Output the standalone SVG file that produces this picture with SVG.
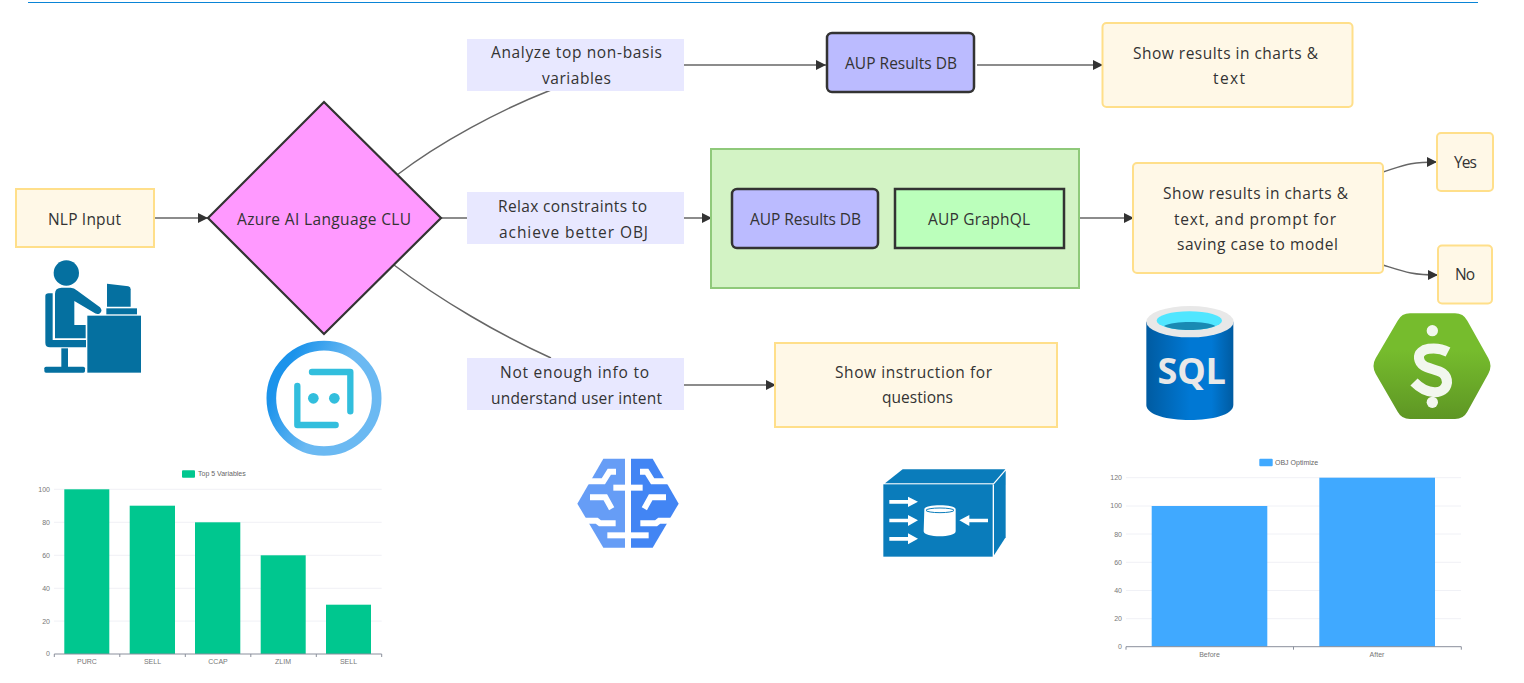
<svg xmlns="http://www.w3.org/2000/svg" width="1524" height="683" viewBox="0 0 1524 683">
<defs>
<marker id="arrow" markerUnits="userSpaceOnUse" markerWidth="11" markerHeight="11" refX="10" refY="5" orient="auto"><path d="M0,0L10,5L0,10Z" fill="#333"/></marker>
<linearGradient id="ring" x1="0" y1="0" x2="1" y2="0.5"><stop offset="0.2" stop-color="#1b93eb"/><stop offset="0.65" stop-color="#6bb9f2"/></linearGradient>
<linearGradient id="sql" x1="0" y1="0" x2="1" y2="0"><stop offset="0" stop-color="#005ba1"/><stop offset="0.5" stop-color="#0078d4"/><stop offset="0.75" stop-color="#0078d4"/><stop offset="1" stop-color="#005ba1"/></linearGradient>
<linearGradient id="hex" x1="0" y1="0" x2="0" y2="1"><stop offset="0.35" stop-color="#76bc2d"/><stop offset="1" stop-color="#5e9624"/></linearGradient>
</defs>
<style>
text{font-family:"Open Sans","Noto Sans",sans-serif;fill:#333}
.t{font-size:15.5px;text-anchor:middle}
.y{fill:#fff8e7;stroke:#ffdf8a;stroke-width:2}
.l{fill:#e8e8ff}
.b{fill:#bbf;stroke:#333;stroke-width:2.5}
.c{fill:none;stroke:#666;stroke-width:1.5}
.a{marker-end:url(#arrow)}
.g{stroke:#f0f1f6;stroke-width:1}
.ax{stroke:#8a8f9c;stroke-width:1;fill:none}
.k{font-size:7px;fill:#777;text-anchor:middle;font-family:"Liberation Sans",sans-serif}
.kr{font-size:7px;fill:#777;text-anchor:end;font-family:"Liberation Sans",sans-serif}
.lg{font-size:7px;fill:#666;font-family:"Liberation Sans",sans-serif}
.bw{fill:none;stroke:#fff;stroke-width:18}
</style>
<line x1="28" y1="2.500" x2="1478" y2="2.500" stroke="#0a84d6" stroke-width="1"/>
<g id="connectors">
<path class="c a" d="M154,218H208"/>
<path class="c" d="M397,175C440,142 500,110 551,90"/>
<path class="c" d="M441,218H467"/>
<path class="c" d="M394,265C440,300 500,335 551,358"/>
<path class="c a" d="M684,65H826"/>
<path class="c a" d="M977,65H1103"/>
<path class="c a" d="M684,218H712"/>
<path class="c a" d="M1079,218H1134"/>
<path class="c a" d="M684,385H776"/>
<path class="c a" d="M1383,172C1405,165 1410,162 1437,162"/>
<path class="c a" d="M1383,265C1405,272 1412,275 1438,275"/>
</g>
<g id="nlp"><rect class="y" x="16" y="189" width="138" height="58"/><text class="t" x="84.500" y="225" textLength="73">NLP Input</text></g>
<g id="clu"><path d="M324,102L441,218L324,334L208,218Z" fill="#f9f" stroke="#333" stroke-width="2.2"/><text class="t" x="324" y="225" textLength="174">Azure AI Language CLU</text></g>
<g id="label-analyze"><rect class="l" x="467" y="39" width="217" height="52"/><text class="t" x="576.500" y="58" textLength="171">Analyze top non-basis</text><text class="t" x="576.500" y="84" textLength="69">variables</text></g>
<g id="label-relax"><rect class="l" x="467" y="192" width="217" height="52"/><text class="t" x="572.500" y="212" textLength="149">Relax constraints to</text><text class="t" x="573.500" y="238" textLength="149">achieve better OBJ</text></g>
<g id="label-info"><rect class="l" x="467" y="358" width="217" height="52"/><text class="t" x="574.500" y="378" textLength="149">Not enough info to</text><text class="t" x="576.500" y="404" textLength="171">understand user intent</text></g>
<g id="db-top"><rect class="b" x="827" y="33" width="147" height="59" rx="5"/><text class="t" x="901" y="69" textLength="112">AUP Results DB</text></g>
<g id="show-top"><rect class="y" x="1102.500" y="23" width="250" height="84" rx="4"/><text class="t" x="1225.500" y="59" textLength="185">Show results in charts &amp;</text><text class="t" x="1229" y="84" textLength="32">text</text></g>
<g id="cluster"><rect x="711" y="149" width="368" height="139" fill="#d3f3c5" stroke="#8fc97a" stroke-width="2"/>
<g id="db-inner"><rect class="b" x="732" y="189" width="146" height="59" rx="5"/><text class="t" x="805.500" y="225" textLength="111">AUP Results DB</text></g>
<g id="graphql"><rect x="895" y="189" width="169" height="59" fill="#bfb" stroke="#333" stroke-width="2.500"/><text class="t" x="979" y="225" textLength="102">AUP GraphQL</text></g></g>
<g id="show-mid"><rect class="y" x="1133" y="163" width="250" height="110" rx="4"/><text class="t" x="1255.500" y="199" textLength="185">Show results in charts &amp;</text><text class="t" x="1255" y="225" textLength="162">text, and prompt for</text><text class="t" x="1257.500" y="250" textLength="161">saving case to model</text></g>
<g id="yes"><rect class="y" x="1437" y="133" width="56" height="58" rx="4"/><text class="t" x="1465.500" y="168" textLength="23">Yes</text></g>
<g id="no"><rect class="y" x="1438" y="245.500" width="54" height="58" rx="4"/><text class="t" x="1465" y="280" textLength="20">No</text></g>
<g id="show-instr"><rect class="y" x="775" y="343" width="282" height="84"/><text class="t" x="913.500" y="378" textLength="157">Show instruction for</text><text class="t" x="917.500" y="403" textLength="71">questions</text></g>

<g id="icon-person" transform="translate(0,170) scale(.33333)" fill="#0570a0">
<circle cx="199" cy="309" r="38"/>
<path d="M165,372Q165,353 185,353H212Q222,353 232,362L300,412Q310,424 298,431Q290,435 280,427L223,393V465H257V505H165Z"/>
<path d="M136,378Q136,370 146,370H158V510H258V532H150Q136,532 136,518Z"/>
<rect x="184" y="535" width="20" height="56"/><rect x="133" y="590" width="122" height="18" rx="5"/>
<rect x="262" y="437" width="161" height="171"/>
<path d="M321,341L385,349Q392,351 392,358V410H321Z"/><rect x="319" y="415" width="92" height="18"/>
</g>
<g id="icon-azure" transform="translate(0,170) scale(.33333)">
<circle cx="972" cy="685" r="158" fill="none" stroke="url(#ring)" stroke-width="29"/>
<path d="M936,606H1051V724M892,648V765H1007" fill="none" stroke="#32bedd" stroke-width="19" stroke-linejoin="round" stroke-linecap="round"/>
<circle cx="940" cy="685" r="16" fill="#32bedd"/><circle cx="1003" cy="685" r="16" fill="#32bedd"/>
</g>
<g id="icon-brain" transform="translate(570,452) scale(.33333)">
<path fill="#669df6" d="M100,20H165V287H100L22,155Z"/>
<path fill="#4285f4" d="M183,20H248L326,155L248,287H183Z"/>
<g><path class="bw" d="M40,88H100L118,59H138"/><path class="bw" d="M130,107H165"/><path class="bw" d="M60,136H106L125,170"/><path class="bw" d="M35,206H80L90,214H137"/><path class="bw" d="M112,250H165"/></g>
<g transform="translate(348,0) scale(-1,1)"><path class="bw" d="M40,88H100L118,59H138"/><path class="bw" d="M130,107H165"/><path class="bw" d="M60,136H106L125,170"/><path class="bw" d="M35,206H80L90,214H137"/><path class="bw" d="M112,250H165"/></g>
</g>
<g id="icon-dbbox" transform="translate(560,450) scale(.33333)" fill="#0a7cbb">
<path d="M975,100L1028,58H1336L1300,100Z"/><path d="M1302,103L1337,62V262L1302,316Z"/><rect x="970" y="103" width="328" height="217"/>
<g fill="#fff"><path d="M988,150H1044V140L1074,155L1044,171V161H988Z"/><path d="M988,206H1044V195L1074,211L1044,228V217H988Z"/><path d="M988,261H1044V250L1074,266L1044,283V272H988Z"/><path d="M1284,206H1228V195L1198,211L1228,228V217H1284Z"/>
<path d="M1093,178C1093,162 1187,162 1187,178V244C1187,264 1091,264 1091,244Z"/></g>
<ellipse cx="1140" cy="181" rx="42" ry="7" fill="none" stroke="#0a7cbb" stroke-width="3"/>
</g>
<g id="icon-sql" transform="translate(1120,290) scale(.33333)">
<path d="M79,95V345C79,405 340,405 340,345V95Z" fill="url(#sql)"/>
<ellipse cx="210" cy="95" rx="131" ry="47" fill="#e8e8e8"/><ellipse cx="208" cy="92" rx="98" ry="28" fill="#50e6ff"/>
<path d="M132,108C160,92 260,92 286,108C250,124 165,124 132,108Z" fill="#198ab3"/>
<text x="215" y="283" font-size="108" font-weight="700" text-anchor="middle" style="fill:#e8e8e8;font-family:'Noto Sans',sans-serif">SQL</text>
</g>
<g id="icon-dollar" transform="translate(1120,290) scale(.33333)">
<path d="M870,70H1005Q1030,70 1042,92L1105,205Q1118,228 1105,251L1042,365Q1030,387 1005,387H870Q845,387 833,365L767,251Q754,228 767,205L833,92Q845,70 870,70Z" fill="url(#hex)"/>
<path d="M984,186C950,168 893,172 897,205C903,250 983,225 981,278C975,318 920,315 882,276" fill="none" stroke="#f2f7ee" stroke-width="30"/>
<circle cx="937" cy="122" r="17" fill="#f2f7ee"/><circle cx="937" cy="337" r="17" fill="#f2f7ee"/>
</g>

<g id="chart-top5">
<path class="g" d="M54,489.300H381.700M54,522.300H381.700M54,555.300H381.700M54,588.300H381.700M54,621.100H381.700"/>
<rect x="182" y="470.300" width="13" height="7.500" rx="1" fill="#00c78f"/><text class="lg" x="198" y="476.300">Top 5 Variables</text>
<g fill="#00c78f"><rect x="64.300" y="489.300" width="45" height="164.700"/><rect x="129.700" y="505.700" width="45.300" height="148.300"/><rect x="195" y="522.300" width="45.300" height="131.700"/><rect x="260.700" y="555.300" width="45" height="98.700"/><rect x="326" y="604.700" width="45" height="49.300"/></g>
<path class="ax" d="M54.300,654H381.700M54.300,654v3M119.800,654v3M185.300,654v3M250.800,654v3M316.300,654v3M381.700,654v3"/>
<text class="kr" x="50" y="491.500">100</text><text class="kr" x="50" y="524.500">80</text><text class="kr" x="50" y="557.500">60</text><text class="kr" x="50" y="590.500">40</text><text class="kr" x="50" y="623.500">20</text><text class="kr" x="50" y="656">0</text>
<text class="k" x="87" y="663.500">PURC</text><text class="k" x="152.500" y="663.500">SELL</text><text class="k" x="218" y="663.500">CCAP</text><text class="k" x="283" y="663.500">ZLIM</text><text class="k" x="348.500" y="663.500">SELL</text>
</g>
<g id="chart-obj">
<path class="g" d="M1126,477.700H1461M1126,506H1461M1126,534H1461M1126,562.300H1461M1126,590.500H1461M1126,618.700H1461"/>
<rect x="1259.300" y="458.700" width="13.400" height="7.500" rx="1" fill="#40a9ff"/><text class="lg" x="1275" y="464.800">OBJ Optimize</text>
<g fill="#40a9ff"><rect x="1151.700" y="506" width="115.600" height="140.700"/><rect x="1319.300" y="477.700" width="115.700" height="169"/></g>
<path class="ax" d="M1126,646.700H1461.300M1126,646.700v3M1293.500,646.700v3M1461.300,646.700v3"/>
<text class="kr" x="1122" y="480">120</text><text class="kr" x="1122" y="508">100</text><text class="kr" x="1122" y="536.500">80</text><text class="kr" x="1122" y="564.500">60</text><text class="kr" x="1122" y="592.500">40</text><text class="kr" x="1122" y="621">20</text><text class="kr" x="1122" y="649">0</text>
<text class="k" x="1209.500" y="656.500">Before</text><text class="k" x="1377" y="656.500">After</text>
</g>
</svg>
